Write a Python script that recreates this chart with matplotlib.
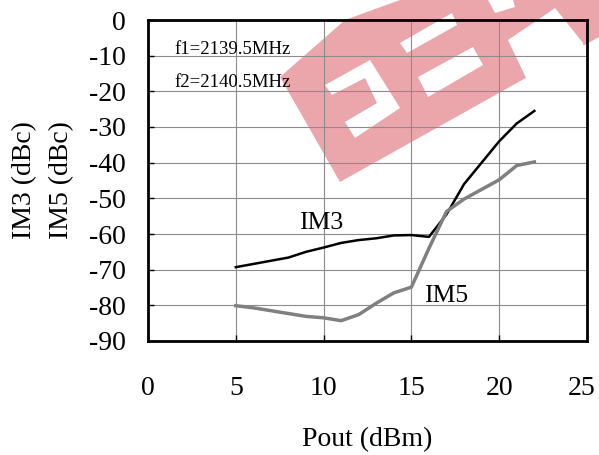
import matplotlib.pyplot as plt
from matplotlib.patches import Polygon
from matplotlib.transforms import ScaledTranslation

plt.rcParams['font.family'] = ['Liberation Serif', 'DejaVu Serif']
plt.rcParams['axes.unicode_minus'] = False

pout = [5, 6, 7, 8, 9, 10, 11, 12, 13, 14, 15, 16, 17, 18, 19, 20, 21, 22]
im3 = [-69.3, -68.4, -67.5, -66.6, -65.0, -63.8, -62.5, -61.7, -61.2, -60.4,
       -60.3, -60.8, -54.5, -46.0, -40.0, -34.0, -29.0, -25.5]
im5 = [-80.1, -80.7, -81.5, -82.3, -83.1, -83.5, -84.3, -82.6, -79.4, -76.5,
       -74.9, -64.0, -53.7, -50.2, -47.5, -44.8, -40.8, -39.8]

x_ticks = [0, 5, 10, 15, 20, 25]
y_ticks = [0, -10, -20, -30, -40, -50, -60, -70, -80, -90]

# watermark shapes, in figure pixels (x right, y down)
wm_band = [(280, 77), (345, 20), (400, 0), (599, 0), (599, 37), (340, 182)]
wm_holes = [
    [(325, 85), (370, 60), (400, 108), (355, 138), (345, 122), (377, 103),
     (365, 78), (332, 95)],
    [(400, 43), (452, 13), (457, 25), (407, 53)],
    [(418, 77), (473, 47), (483, 65), (428, 97)],
    [(488, 0), (513, 0), (515, 7), (495, 13)],
    [(508, 40), (545, 15), (555, 8), (583, 43), (590, 80), (527, 80)],
]

fig = plt.figure(figsize=(5.99, 4.55), dpi=100)

bg = fig.add_axes([0, 0, 1, 1], zorder=0)
bg.set_xlim(0, 599)
bg.set_ylim(455, 0)
bg.axis('off')
bg.add_patch(Polygon(wm_band, closed=True, facecolor='#EBA6AB', edgecolor='none'))
for h in wm_holes:
    bg.add_patch(Polygon(h, closed=True, facecolor='white', edgecolor='none'))

ax = fig.add_axes([148 / 599, 1 - 341 / 455, 439 / 599, 321 / 455], zorder=1)
ax.patch.set_alpha(0)

ax.plot(pout, im3, color='black', lw=1.8, zorder=3)
ax.plot(pout, im5, color='#808080', lw=2.5, zorder=3)

ax.set_xlim(0, 25)
ax.set_ylim(-90, 0)
ax.set_xticks(x_ticks)
ax.set_yticks(y_ticks)
ax.grid(True, color='#8c8c8c', lw=0.8)
ax.tick_params(direction='in', length=4, width=1, labelsize=20)
ax.tick_params(axis='x', pad=25)
ax.tick_params(axis='y', pad=16)
for s in ax.spines.values():
    s.set_linewidth(2)

# keep the last x label inside the picture
last = ax.get_xticklabels()[-1]
last.set_transform(last.get_transform() + ScaledTranslation(-4 / 72, 0, fig.dpi_scale_trans))

ax.text(1.5, -8.4, 'f1=2139.5MHz', fontsize=13.5, va='center', zorder=4)
ax.text(1.5, -17.4, 'f2=2140.5MHz', fontsize=13.5, va='center', zorder=4)
ax.text(9.85, -56.9, 'IM3', fontsize=18.5, ha='center', va='center', zorder=4)
ax.text(17.0, -77.4, 'IM5', fontsize=18.5, ha='center', va='center', zorder=4)

ax.set_xlabel('Pout (dBm)', fontsize=20, labelpad=19)
ax.set_ylabel('IM3 (dBc)\nIM5 (dBc)', fontsize=20, labelpad=11, linespacing=1.6)

fig.savefig('out.png', dpi=100)
